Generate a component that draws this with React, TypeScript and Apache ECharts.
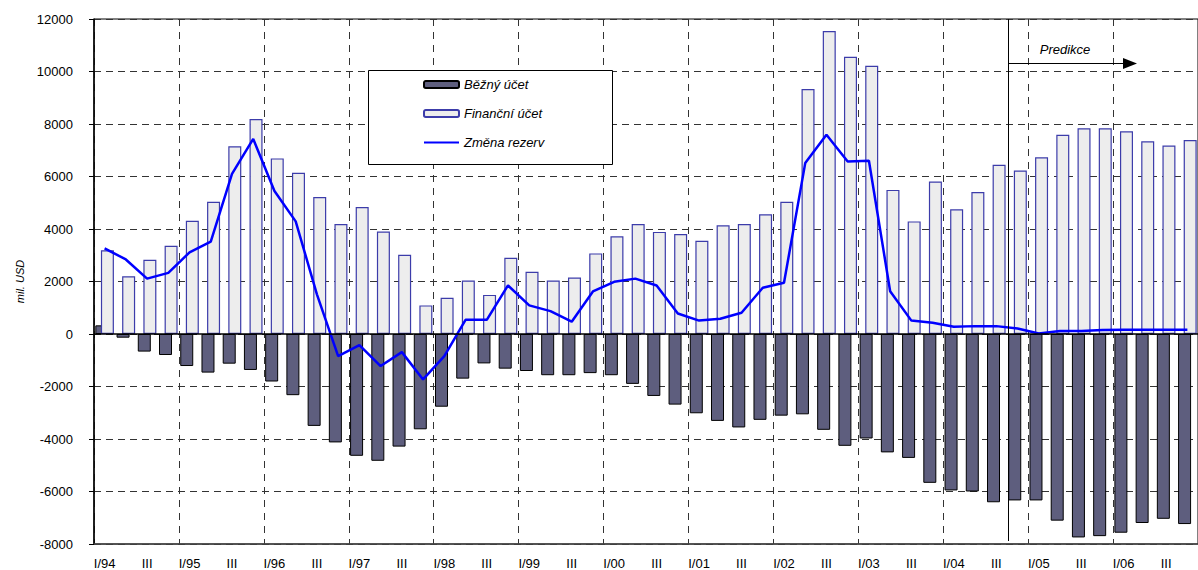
import React, { useEffect, useRef } from "react";
import * as echarts from "echarts";

const FONT = '"Liberation Sans", Arial, sans-serif';

const categories = [
  "I/94", "II", "III", "IV",
  "I/95", "II", "III", "IV",
  "I/96", "II", "III", "IV",
  "I/97", "II", "III", "IV",
  "I/98", "II", "III", "IV",
  "I/99", "II", "III", "IV",
  "I/00", "II", "III", "IV",
  "I/01", "II", "III", "IV",
  "I/02", "II", "III", "IV",
  "I/03", "II", "III", "IV",
  "I/04", "II", "III", "IV",
  "I/05", "II", "III", "IV",
  "I/06", "II", "III", "IV",
];

// Běžný účet (current account), mil. USD
const currentAccount = [
  330, -140, -670, -800,
  -1220, -1470, -1130, -1370,
  -1810, -2330, -3500, -4130,
  -4640, -4830, -4290, -3630,
  -2770, -1700, -1120, -1320,
  -1410, -1570, -1570, -1490,
  -1570, -1900, -2360, -2690,
  -3020, -3310, -3560, -3270,
  -3110, -3060, -3650, -4260,
  -3980, -4510, -4720, -5670,
  -5960, -6000, -6410, -6340,
  -6340, -7110, -7750, -7700,
  -7570, -7200, -7040, -7240,
];

// Finanční účet (financial account)
const financialAccount = [
  3190, 2200, 2830, 3360,
  4310, 5040, 7150, 8190,
  6690, 6140, 5220, 4190,
  4840, 3900, 3020, 1090,
  1380, 2040, 1490, 2900,
  2370, 2040, 2150, 3070,
  3720, 4190, 3890, 3810,
  3550, 4140, 4190, 4560,
  5040, 9330, 11540, 10560,
  10220, 5490, 4290, 5810,
  4750, 5410, 6450, 6230,
  6730, 7590, 7840, 7840,
  7720, 7340, 7180, 7390,
];

// Změna rezerv (change in reserves)
const reserveChange = [
  3260, 2840, 2110, 2330,
  3110, 3520, 6100, 7430,
  5450, 4290, 1510, -840,
  -420, -1220, -690, -1730,
  -840, 540, 540, 1850,
  1090, 870, 470, 1620,
  1990, 2110, 1850, 780,
  510, 580, 810, 1760,
  1950, 6510, 7590, 6570,
  6600, 1630, 510, 430,
  280, 300, 300, 210,
  20, 110, 110, 150,
  160, 160, 160, 160,
];

const seriesNames = ["Běžný účet", "Finanční účet", "Změna rezerv"];

export default function App() {
  const ref = useRef<HTMLDivElement>(null);

  useEffect(() => {
    if (!ref.current) return;
    const chart = echarts.init(ref.current, undefined, { renderer: "svg" });
    const option: any = {
      animation: false,
      textStyle: { fontFamily: FONT },
      grid: {
        left: 94,
        top: 19,
        width: 1110,
        height: 525.5,
        show: true,
        borderColor: "#000",
        borderWidth: 1,
        backgroundColor: "transparent",
      },
      legend: {
        orient: "vertical",
        left: 423,
        top: 78,
        padding: 0,
        itemWidth: 35,
        itemHeight: 7,
        itemGap: 16,
        z: 10,
        textStyle: { fontStyle: "italic", fontSize: 13, color: "#000", fontFamily: FONT },
        data: [
          { name: seriesNames[0] },
          { name: seriesNames[1] },
          { name: seriesNames[2], itemStyle: { opacity: 0 } },
        ],
      },
      xAxis: {
        type: "category",
        data: categories,
        boundaryGap: true,
        axisLine: { show: true, onZero: false, lineStyle: { color: "#444", width: 1.5 } },
        axisTick: { show: false },
        axisLabel: { interval: 1, margin: 13, fontSize: 13, color: "#000", fontFamily: FONT },
        splitLine: {
          show: true,
          interval: (i: number) => i % 4 === 0,
          lineStyle: { type: [7, 6], color: "#333", width: 1 },
        },
      },
      yAxis: {
        type: "value",
        min: -8000,
        max: 12000,
        interval: 2000,
        name: "mil. USD",
        nameLocation: "middle",
        nameGap: 66,
        nameTextStyle: { fontStyle: "italic", fontSize: 11, color: "#000", fontFamily: FONT },
        axisLine: { show: true, lineStyle: { color: "#000", width: 1.5 } },
        axisTick: { show: true, length: 5, lineStyle: { color: "#000" } },
        axisLabel: {
          formatter: (v: number) => String(v),
          margin: 21,
          fontSize: 13,
          color: "#000",
          fontFamily: FONT,
        },
        splitLine: { show: true, lineStyle: { type: [7, 5], color: "#333", width: 1 } },
      },
      series: [
        {
          name: seriesNames[0],
          type: "bar",
          data: currentAccount,
          barWidth: 13,
          barGap: "-57%",
          itemStyle: { color: "#5e5e7e", borderColor: "#000", borderWidth: 1 },
          z: 2,
        },
        {
          name: seriesNames[1],
          type: "bar",
          data: financialAccount,
          barWidth: 13,
          barGap: "-57%",
          itemStyle: { color: "#ededed", borderColor: "#3c3caa", borderWidth: 1.2 },
          z: 2,
        },
        {
          name: seriesNames[2],
          type: "line",
          data: reserveChange,
          symbol: "none",
          showSymbol: false,
          lineStyle: { color: "#0000ff", width: 2.5 },
          itemStyle: { color: "#0000ff" },
          z: 4,
          markLine: {
            silent: true,
            symbol: ["none", "none"],
            label: { show: false },
            lineStyle: { color: "#000", type: "solid", width: 1.5 },
            data: [{ yAxis: 0 }],
          },
        },
      ],
      graphic: [
        {
          type: "rect",
          z: 5,
          shape: { x: 368.5, y: 70.5, width: 244, height: 94 },
          style: { fill: "#fff", stroke: "#000", lineWidth: 1 },
        },
        {
          type: "line",
          z: 6,
          shape: { x1: 1008.5, y1: 19, x2: 1008.5, y2: 541 },
          style: { stroke: "#000", lineWidth: 1 },
        },
        {
          type: "line",
          z: 6,
          shape: { x1: 1008.5, y1: 63.5, x2: 1124, y2: 63.5 },
          style: { stroke: "#000", lineWidth: 1 },
        },
        {
          type: "polygon",
          z: 6,
          shape: { points: [[1123, 58], [1137, 63.5], [1123, 69]] },
          style: { fill: "#000" },
        },
        {
          type: "text",
          z: 6,
          x: 1065,
          y: 49,
          style: {
            text: "Predikce",
            fontStyle: "italic",
            fontSize: 13,
            fontFamily: FONT,
            fill: "#000",
            align: "center",
            verticalAlign: "middle",
          },
        },
      ],
    };
    chart.setOption(option);
    return () => chart.dispose();
  }, []);

  return (
    <div
      ref={ref}
      style={{ position: "absolute", left: 0, top: 0, width: 1198, height: 570, background: "#fff" }}
    />
  );
}
